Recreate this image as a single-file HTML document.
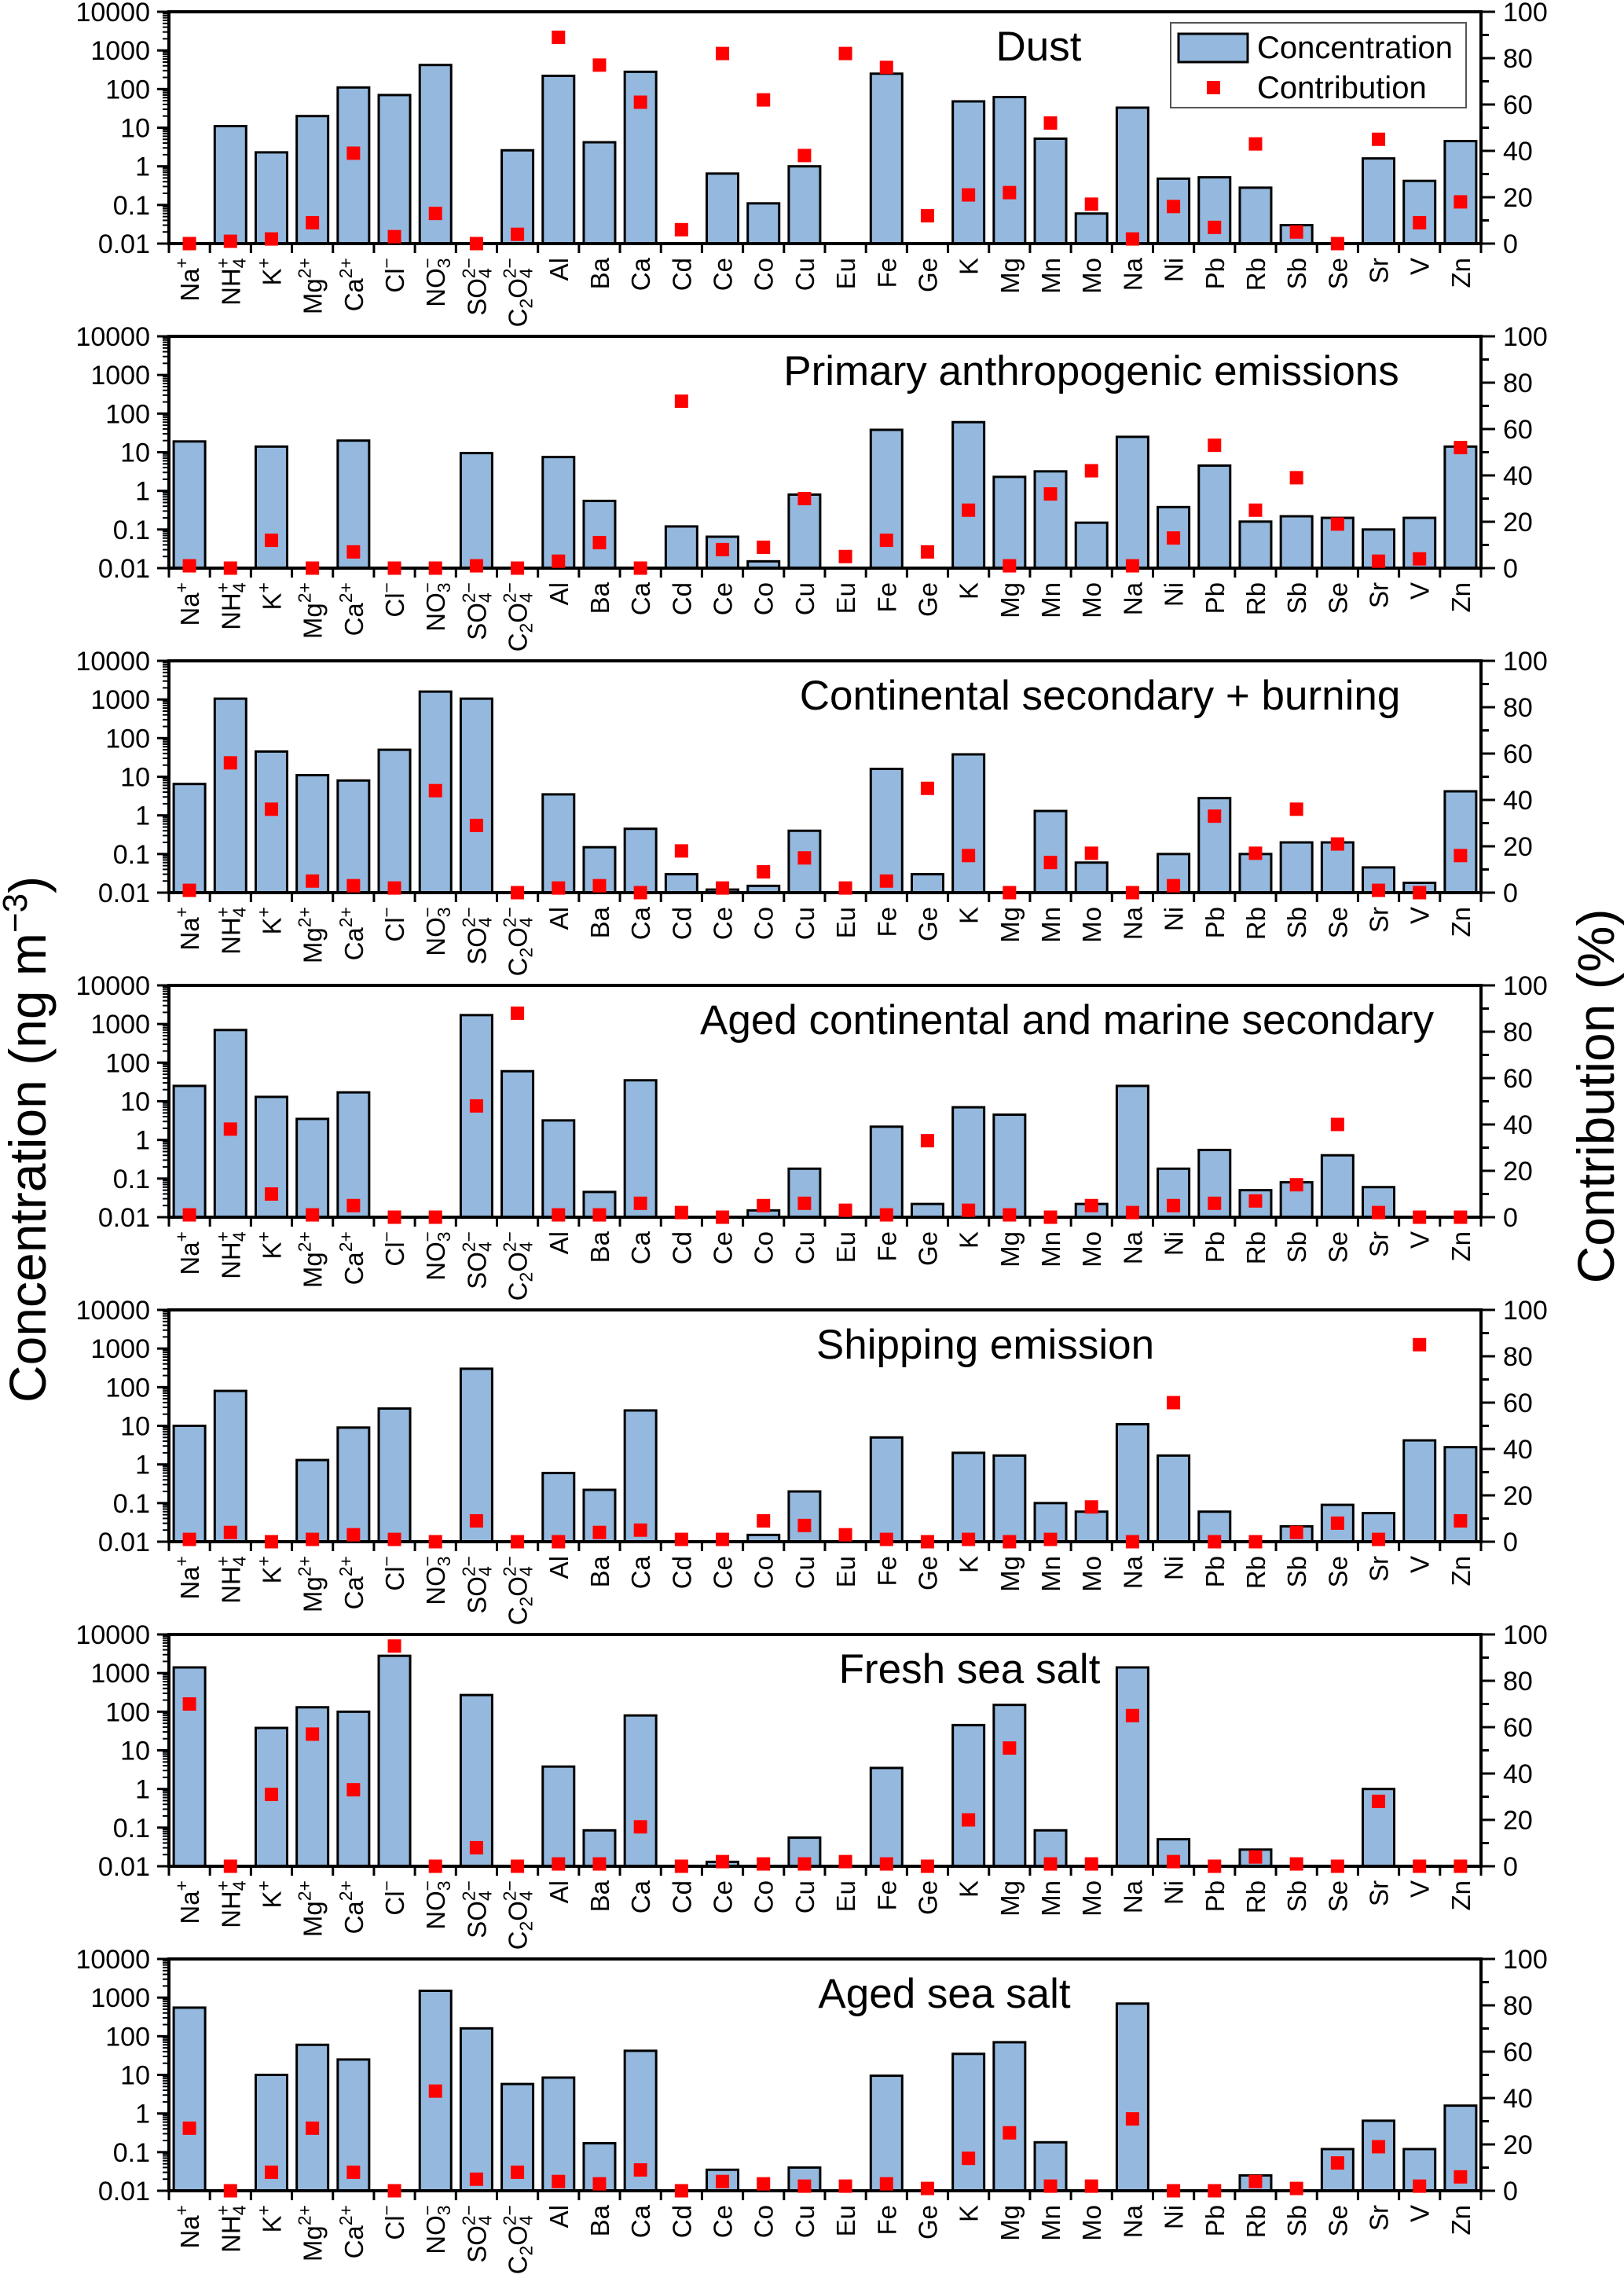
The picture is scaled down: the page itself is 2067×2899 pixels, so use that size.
<!DOCTYPE html>
<html><head><meta charset="utf-8"><style>
html,body{margin:0;padding:0;background:#fff}
svg{display:block;font-family:"Liberation Sans",Arial,sans-serif}
</style></head><body>
<svg id="chart" width="2067" height="2899" viewBox="0 0 2067 2899" xmlns="http://www.w3.org/2000/svg">
<text transform="translate(58,1450) rotate(-90)" text-anchor="middle" font-size="66">Concentration (ng m<tspan dy="-24" font-size="44">−3</tspan><tspan dy="24">)</tspan></text>
<text transform="translate(2054,1395) rotate(-90)" text-anchor="middle" font-size="66">Contribution (%)</text>
</svg>
<script>
const categories = ["Na+","NH4+","K+","Mg2+","Ca2+","Cl-","NO3-","SO42-","C2O42-","Al","Ba","Ca","Cd","Ce","Co","Cu","Eu","Fe","Ge","K","Mg","Mn","Mo","Na","Ni","Pb","Rb","Sb","Se","Sr","V","Zn"];
const panelTitles = ["Dust","Primary anthropogenic emissions","Continental secondary + burning","Aged continental and marine secondary","Shipping emission","Fresh sea salt","Aged sea salt"];
const leftTicks = ["0.01","0.1","1","10","100","1000","10000"];
const rightTicks = ["0","20","40","60","80","100"];
const N = null;
const concDust = [N,11,2.3,20,110,70,420,N,2.6,220,4.2,280,N,0.65,0.11,1.0,N,250,N,48,62,5.2,0.06,33,0.48,0.52,0.28,0.03,N,1.6,0.42,4.5];
const contDust = [0,1,2,9,39,3,13,0,4,89,77,61,6,82,62,38,82,76,12,21,22,52,17,2,16,7,43,5,0,45,9,18];
const concPrimary = [19,N,14,N,20,N,N,9.5,N,7.5,0.55,N,0.12,0.065,0.015,0.8,N,38,N,60,2.3,3.2,0.15,25,0.38,4.5,0.16,0.22,0.2,0.1,0.2,14];
const contPrimary = [1,0,12,0,7,0,0,1,0,3,11,0,72,8,9,30,5,12,7,25,1,32,42,1,13,53,25,39,19,3,4,52];
const concContinental = [6.5,1050,45,11,8,50,1600,1050,N,3.5,0.15,0.45,0.03,0.012,0.015,0.4,N,16,0.03,38,N,1.3,0.06,N,0.1,2.8,0.1,0.2,0.2,0.045,0.018,4.2];
const contContinental = [1,56,36,5,3,2,44,29,0,2,3,0,18,2,9,15,2,5,45,16,0,13,17,0,3,33,17,36,21,1,0,16];
const concAged = [25,700,13,3.5,17,N,N,1700,60,3.2,0.045,35,N,N,0.015,0.18,N,2.2,0.022,7,4.5,N,0.022,25,0.18,0.55,0.05,0.08,0.4,0.06,N,N];
const contAged = [1,38,10,1,5,0,0,48,88,1,1,6,2,0,5,6,3,1,33,3,1,0,5,2,5,6,7,14,40,2,0,0];
const concShipping = [10,80,N,1.3,9,28,N,300,N,0.6,0.22,25,N,N,0.015,0.2,N,5,N,2,1.7,0.1,0.06,11,1.7,0.06,N,0.025,0.09,0.055,4.2,2.8];
const contShipping = [1,4,0,1,3,1,0,9,0,0,4,5,1,1,9,7,3,1,0,1,0,1,15,0,60,0,0,4,8,1,85,9];
const concFresh = [1400,N,38,130,100,2800,N,270,N,3.8,0.085,80,N,0.013,N,0.055,N,3.5,N,45,150,0.085,N,1400,0.05,N,0.027,N,N,1.0,N,N];
const contFresh = [70,0,31,57,33,95,0,8,0,1,1,17,0,2,1,1,2,1,0,20,51,1,1,65,2,0,4,1,0,28,0,0];
const concAgedSea = [550,N,10,60,25,N,1500,160,5.8,8.5,0.17,42,N,0.035,N,0.04,N,9.5,N,35,70,0.18,N,700,N,N,0.025,N,0.12,0.65,0.12,1.6];
const contAgedSea = [27,0,8,27,8,0,43,5,8,4,3,9,0,4,3,2,2,3,1,14,25,2,2,31,0,0,4,1,12,19,2,6];

const concSeries = [concDust,concPrimary,concContinental,concAged,concShipping,concFresh,concAgedSea];
const contSeries = [contDust,contPrimary,contContinental,contAged,contShipping,contFresh,contAgedSea];
const titleX = [1322,1389,1400,1358,1254,1234,1202];

const NS = "http://www.w3.org/2000/svg";
const svg = document.getElementById("chart");
const L = 215, R = 1885, H = 295, TOP0 = 15, STEP = 413;
const cw = (R - L) / categories.length;
function mk(tag, attrs, parent){const e=document.createElementNS(NS,tag);for(const k in attrs)e.setAttribute(k,attrs[k]);(parent||svg).appendChild(e);return e;}
function xC(i){return L + cw*(i+0.5);}

const labelParts = {
 "Na+":[["Na",""],["+","sup"]],"NH4+":[["NH",""],["4","sub"],["+","supover"]],"K+":[["K",""],["+","sup"]],
 "Mg2+":[["Mg",""],["2+","sup"]],"Ca2+":[["Ca",""],["2+","sup"]],"Cl-":[["Cl",""],["−","sup"]],
 "NO3-":[["NO",""],["3","sub"],["−","supover"]],"SO42-":[["SO",""],["4","sub"],["2−","supover"]],
 "C2O42-":[["C",""],["2","sub"],["O",""],["4","sub"],["2−","supover"]]
};

for (let p=0;p<7;p++){
  const top = TOP0 + STEP*p, bot = top + H;
  const g = mk("g",{});
  
  
  const yL = v => bot - (Math.log10(v)+2)/6*H;
  const yR = v => bot - v/100*H;
  const conc = concSeries[p], cont = contSeries[p];
  conc.forEach((v,i)=>{
    if(v==null) return;
    const y = yL(v);
    const b = mk("rect",{x:xC(i)-20,y:y,width:40,height:bot-y,fill:"#95b9de",stroke:"#000","stroke-width":3},g);
    
    
  });
  const fr = mk("path",{d:`M${L},${bot} L${L},${top} L${R},${top} L${R},${bot} Z`,fill:"none",stroke:"#000","stroke-width":4},g);
  
  
  for(let k=0;k<=categories.length;k++){mk("line",{x1:L+cw*k,y1:bot,x2:L+cw*k,y2:bot+12,stroke:"#000","stroke-width":3},g);}
  leftTicks.forEach((t,j)=>{
    const y = bot - j/6*H;
    mk("line",{x1:L-15,y1:y,x2:L,y2:y,stroke:"#000","stroke-width":3},g);
    const tx = mk("text",{x:L-24,y:y+12,"text-anchor":"end","font-size":34},g);
    tx.textContent = t;
    
    
    if(j<6){for(let m=2;m<10;m++){const ym=y-Math.log10(m)/6*H;mk("line",{x1:L-8,y1:ym,x2:L,y2:ym,stroke:"#000","stroke-width":2},g);}}
  });
  for(let v=0;v<=100;v+=10){
    const y=yR(v), major = v%20===0;
    mk("line",{x1:R,y1:y,x2:R+(major?18:10),y2:y,stroke:"#000","stroke-width":3},g);
  }
  rightTicks.forEach(t=>{
    const tx = mk("text",{x:R+28,y:yR(+t)+12,"font-size":34},g);
    tx.textContent = t;
    
    
  });
  cont.forEach((v,i)=>{
    const y = yR(v);
    const m = mk("rect",{x:xC(i)-8.5,y:y-8.5,width:17,height:17,fill:"#ff0000"},g);
    
    
  });
  categories.forEach((c,i)=>{
    const cx = xC(i)+12, cy = bot+18;
    const t = mk("text",{transform:`translate(${cx},${cy}) rotate(-90)`,"text-anchor":"end","font-size":33},g);
    
    
    const parts = labelParts[c] || [[c,""]];
    let shift = 0;
    parts.forEach(([s,type],idx)=>{
      const ts = document.createElementNS(NS,"tspan");
      ts.textContent = s;
      let target = 0;
      if(type==="sup"||type==="supover"){target=-14;ts.setAttribute("font-size","23");}
      if(type==="sub"){target=7;ts.setAttribute("font-size","23");}
      ts.setAttribute("dy", target - shift);
      shift = target;
      if(type==="supover"){ts.setAttribute("dx", -13);}
      t.appendChild(ts);
    });
  });
  const tt = mk("text",{x:titleX[p],y:top+62,"text-anchor":"middle","font-size":53},g);
  tt.textContent = panelTitles[p];
  
  
}
const lg = mk("g",{});


mk("rect",{x:1490,y:29,width:376,height:108,fill:"#fff",stroke:"#555","stroke-width":2},lg);
const sw = mk("rect",{x:1500,y:43,width:88,height:36,fill:"#95b9de",stroke:"#000","stroke-width":3},lg);


const sq = mk("rect",{x:1536,y:103,width:17,height:17,fill:"#ff0000"},lg);


const t1 = mk("text",{x:1600,y:74,"font-size":40},lg); t1.textContent="Concentration";


const t2 = mk("text",{x:1600,y:125,"font-size":40},lg); t2.textContent="Contribution";


</script>
</body></html>
